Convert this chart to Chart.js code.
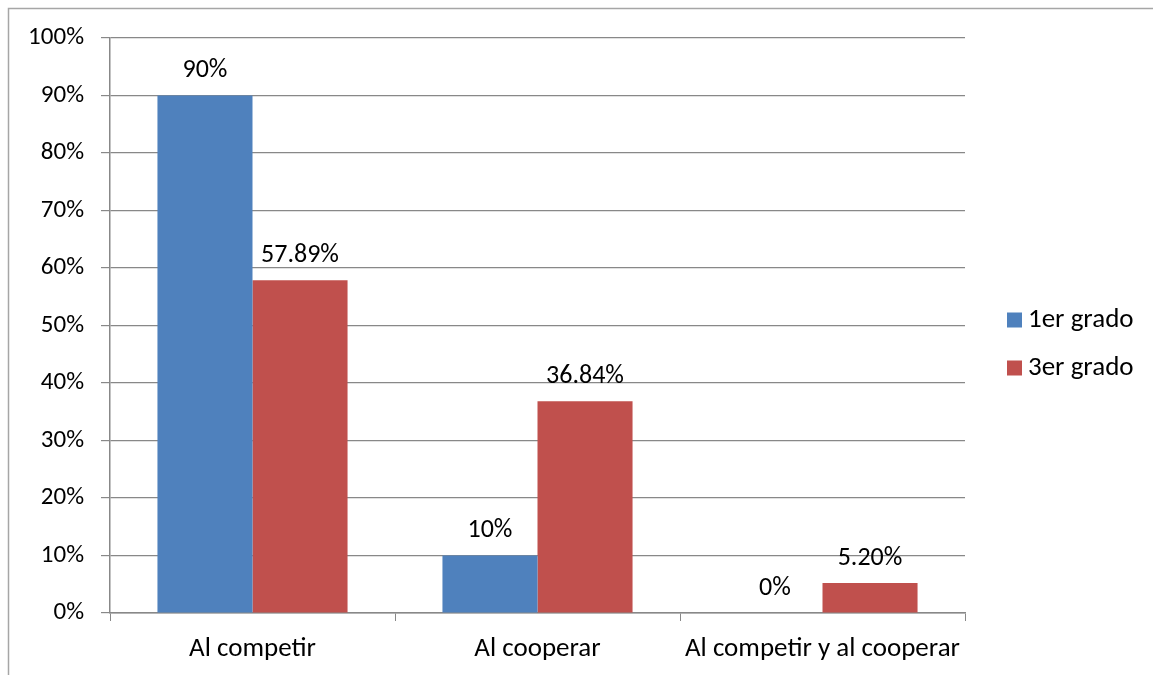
<!DOCTYPE html>
<html><head><meta charset="utf-8">
<script src="https://cdn.jsdelivr.net/npm/chart.js@4/dist/chart.umd.min.js"></script>
<style>html,body{margin:0;padding:0;background:#fff;}#wrap{position:absolute;left:0;top:0;width:1153px;height:675px;}</style>
</head><body><div id="wrap"><canvas id="c" width="1153" height="675"></canvas></div>
<script>
const categories = ["Al competir", "Al cooperar", "Al competir y al cooperar"];
const seriesNames = ["1er grado", "3er grado"];
const grado1 = [90, 10, 0];
const grado3 = [57.89, 36.84, 5.20];
const grado1Labels = ["90%", "10%", "0%"];
const grado3Labels = ["57.89%", "36.84%", "5.20%"];
const yTicks = [0, 10, 20, 30, 40, 50, 60, 70, 80, 90, 100];
const colors = ["#4F81BD", "#C0504D"];
const FONT = "Carlito, Lato, 'Open Sans', sans-serif";
const FS = 26;
const gridColor = "#888888";

const extras = {
  id: 'extras',
  afterDraw(chart) {
    const ctx = chart.ctx;
    ctx.save();
    ctx.strokeStyle = '#a6a6a6'; ctx.lineWidth = 1.5;
    ctx.beginPath(); ctx.moveTo(8.5, 675); ctx.lineTo(8.5, 8.5); ctx.lineTo(1153, 8.5); ctx.stroke();
    ctx.fillStyle = '#000'; ctx.font = FS + 'px ' + FONT; ctx.textAlign = 'center'; ctx.textBaseline = 'middle';
    const lbls = [grado1Labels, grado3Labels];
    chart.data.datasets.forEach((ds, di) => {
      chart.getDatasetMeta(di).data.forEach((bar, i) => {
        ctx.fillText(lbls[di][i], bar.x, bar.y - 25);
      });
    });
    const lx = 1007, ly = [320, 368];
    ctx.font = (FS + 1) + 'px ' + FONT;
    seriesNames.forEach((n, i) => {
      ctx.fillStyle = colors[i];
      ctx.fillRect(lx, ly[i] - 7.5, 15, 15);
      ctx.fillStyle = '#000'; ctx.textAlign = 'left';
      ctx.fillText(n, lx + 21, ly[i]);
    });
    ctx.restore();
  }
};

new Chart(document.getElementById('c'), {
  type: 'bar',
  data: {
    labels: categories,
    datasets: [
      { label: seriesNames[0], data: grado1, backgroundColor: colors[0] },
      { label: seriesNames[1], data: grado3, backgroundColor: colors[1] }
    ]
  },
  options: {
    responsive: false, animation: false,
    layout: { padding: { left: 0, top: 38, right: 188, bottom: 0 } },
    plugins: { legend: { display: false }, tooltip: { enabled: false } },
    datasets: { bar: { categoryPercentage: 0.667, barPercentage: 1.0 } },
    scales: {
      x: {
        grid: { drawOnChartArea: false, drawTicks: true, tickLength: 8, color: gridColor, offset: true },
        border: { color: gridColor, width: 1.5 },
        ticks: { color: '#000', font: { size: FS + 1, family: FONT }, padding: 12 },
        afterFit(s) { s.height = 62; }
      },
      y: {
        min: 0, max: 100,
        afterBuildTicks(s) { s.ticks = yTicks.map(v => ({ value: v })); },
        grid: { color: gridColor, tickLength: 9, lineWidth: 1.2 },
        border: { color: gridColor, width: 1.5 },
        ticks: { color: '#000', font: { size: FS - 1, family: FONT }, padding: 17, callback: v => v + '%' },
        afterFit(s) { s.width = 110; }
      }
    }
  },
  plugins: [extras]
});
</script></body></html>
